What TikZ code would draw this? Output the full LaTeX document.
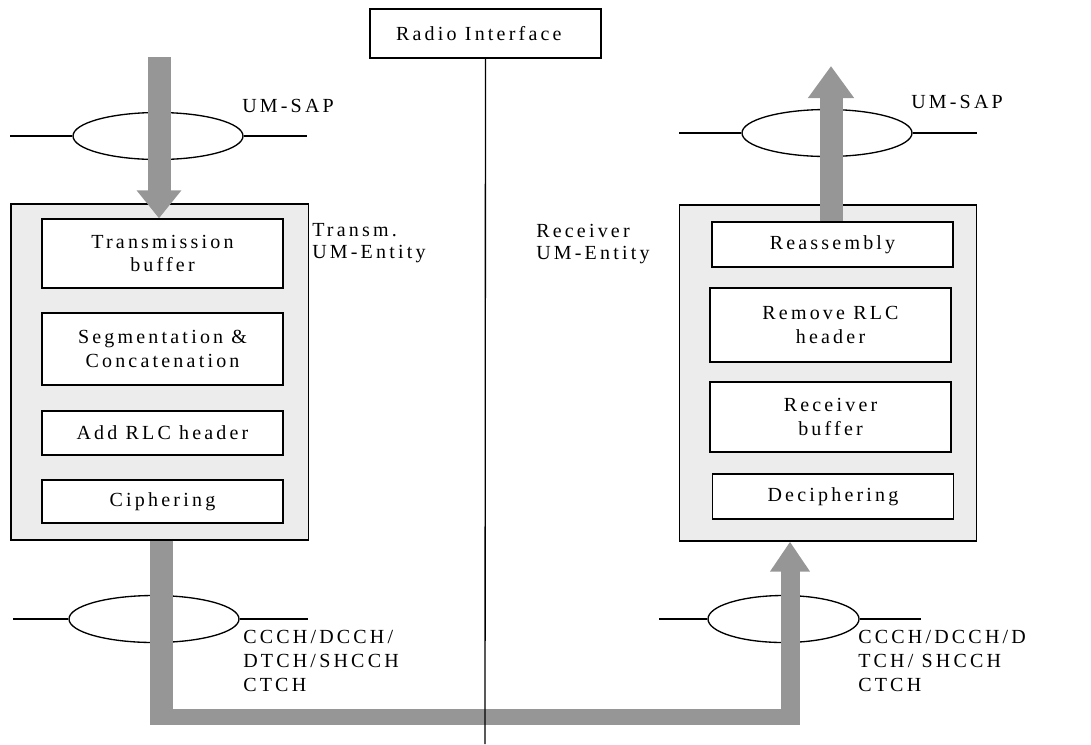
\documentclass[tikz,border=0pt]{standalone}
\usepackage{fontspec}
\setmainfont{Liberation Serif}[LetterSpace=16]
\usetikzlibrary{arrows.meta,shapes.geometric}
\definecolor{flowgray}{RGB}{150,150,150}
\definecolor{shadegray}{RGB}{236,236,236}
\begin{document}
\begin{tikzpicture}[x=0.75pt,y=-0.75pt,
  font=\fontsize{15}{17.5}\selectfont,
  thin line/.style={line width=1pt},
  entity/.style={draw, thin line, fill=shadegray, minimum width=223pt, minimum height=252pt, inner sep=0pt},
  stage/.style={draw, thin line, fill=white, minimum width=180.75pt, inner sep=0pt, align=center},
  sap/.style={draw, thin line, ellipse, minimum width=127.5pt, minimum height=35.25pt, inner sep=0pt},
  lbl/.style={align=left, inner sep=0pt},
  flow/.style={draw=flowgray, line width=17.25pt}]
\useasboundingbox (0,0) rectangle (1091,744);

% Radio interface
\node[draw, thin line, minimum width=173.25pt, minimum height=36.75pt, inner sep=0pt] (RI) at (485.5,33.5) {Radio Interface\hspace*{10pt}};
\coordinate (vbot) at (485,744);

% entities
\node[entity] (LE) at (159.5,372) {};
\node[entity] (RE) at (828,373) {};

% transmitter stages
\node[stage, minimum height=51.75pt] (TB) at (162.5,253.5) {Transmission\\buffer};
\node[stage, minimum height=54pt] (SC) at (162.5,349) {Segmentation \&\\Concatenation};
\node[stage, minimum height=33pt] (AH) at (162.5,433) {Add RLC header};
\node[stage, minimum height=32.25pt] (CI) at (162.5,501.5) {Ciphering};

% receiver stages
\node[stage, minimum height=33.75pt] (RA) at (832.5,244.5) {Reassembly};
\node[stage, minimum height=55.5pt] (RR) at (830.5,325) {Remove RLC\\header};
\node[stage, minimum height=52.5pt] (RB) at (830.5,417) {Receiver\\buffer};
\node[stage, minimum height=33.75pt] (DE) at (833,496.5) {Deciphering};

% SAP ellipses and lines
\node[sap] (SUL) at (158,136) {};
\coordinate (SULa) at (10,136); \coordinate (SULb) at (307,136);
\draw[thin line] (SULa) -- (SUL.west) (SUL.east) -- (SULb);

\node[sap] (SUR) at (827,133) {};
\coordinate (SURa) at (679,133); \coordinate (SURb) at (977,133);
\draw[thin line] (SURa) -- (SUR.west) (SUR.east) -- (SURb);

\node[sap] (SBL) at (154,619) {};
\coordinate (SBLa) at (13,619); \coordinate (SBLb) at (308,619);
\draw[thin line] (SBLa) -- (SBL.west) (SBL.east) -- (SBLb);

\node[sap, minimum width=113.25pt] (SBR) at (783.5,619) {};
\coordinate (SBRa) at (659,619); \coordinate (SBRb) at (921,619);
\draw[thin line] (SBRa) -- (SBR.west) (SBR.east) -- (SBRb);

% labels
\node[lbl, anchor=west] (lsapL) at (242,106) {UM-SAP};
\node[lbl, anchor=west] (lsapR) at (911,102) {UM-SAP};
\node[lbl, anchor=west, font=\fontsize{15}{17}\selectfont] (ltx) at (312,243) {Transm.\\UM-Entity};
\node[lbl, anchor=west, font=\fontsize{15}{17}\selectfont] (lrx) at (536,244) {Receiver\\UM-Entity};
\node[lbl, anchor=west, font=\fontsize{15}{18}\selectfont] (lchL) at (243,661) {CCCH/DCCH/\\DTCH/SHCCH\\CTCH};
\node[lbl, anchor=west, font=\fontsize{15}{18}\selectfont] (lchR) at (858,661) {CCCH/DCCH/D\\TCH/ SHCCH\\CTCH};

% flow arrows
\coordinate (ULtop) at (159,57);
\draw[flow, -{Triangle[width=32.25pt,length=21pt]}] (ULtop) -- (ULtop |- TB.north);

\coordinate (URtop) at (831,66);
\draw[flow, -{Triangle[width=33pt,length=24pt]}] (URtop |- RA.north) -- (URtop);

\coordinate (b1) at (161.5,725);
\coordinate (hL) at (150,717);
\coordinate (hR) at (800,717);
\coordinate (b2) at (790,725);
\draw[flow] (b1 |- LE.south) -- (b1);
\draw[draw=flowgray, line width=12pt] (hL) -- (hR);
\draw[flow, line width=14.25pt, -{Triangle[width=28.5pt,length=22.5pt]}] (b2) -- (b2 |- RE.south);

% radio interface line
\draw[thin line] (RI.south) -- (vbot);
\end{tikzpicture}
\end{document}
